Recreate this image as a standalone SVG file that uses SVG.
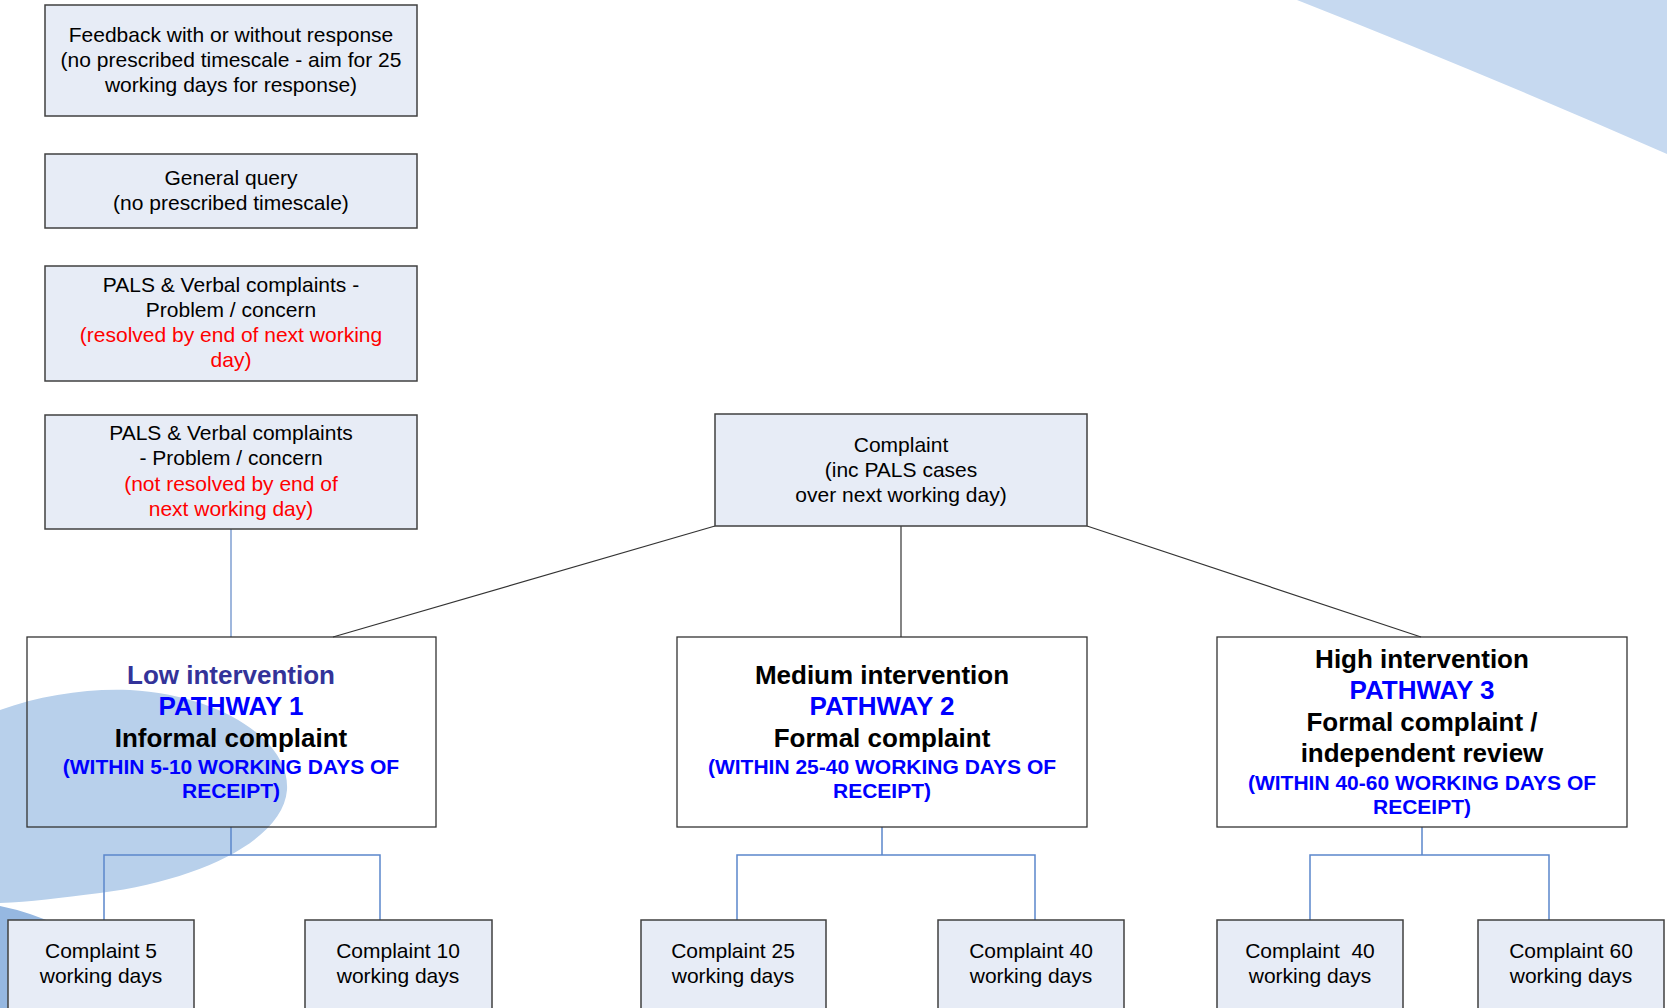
<svg xmlns="http://www.w3.org/2000/svg" width="1667" height="1008" viewBox="0 0 1667 1008">
<style>
  .bg { fill: #ffffff; }
  .box { fill: #E7ECF6; stroke: #404040; stroke-width: 1.5; }
  .pbox { fill: none; stroke: #333333; stroke-width: 1.3; }
  .t { font-family: "Liberation Sans", Arial, sans-serif; font-size: 21px; fill: #000; text-anchor: middle; }
  .red { fill: #FF0000; }
  .h { font-family: "Liberation Sans", Arial, sans-serif; font-size: 26px; font-weight: bold; fill: #000; text-anchor: middle; }
  .w { font-family: "Liberation Sans", Arial, sans-serif; font-size: 21px; font-weight: bold; fill: #0000FF; text-anchor: middle; }
  .blue { fill: #0000FF; }
  .slate { fill: #333399; }
  .dark { stroke: #333333; stroke-width: 1.2; fill: none; }
  .lb { stroke: #7F9FD2; stroke-width: 1.5; fill: none; }
  .tree { stroke: #5B87CC; stroke-width: 1.5; fill: none; }
</style>
<rect class="bg" x="0" y="0" width="1667" height="1008"/>
<g id="decor">
  <path d="M1297,0 Q1480,72 1667,154 L1667,0 Z" fill="#C6D9F0"/>
  <path d="M0,710 C40,695 90,688 130,690 C220,695 290,740 287,790 C283,840 200,880 100,893 C60,898 30,902 0,903 Z" fill="#B8D0EB"/>
  <path d="M0,906 Q30,912 60,926 L60,1008 L0,1008 Z" fill="#96B8E1"/>
</g>
<g id="connectors">
  <line class="lb" x1="231" y1="529" x2="231" y2="637"/>
  <line class="dark" x1="715" y1="526" x2="333" y2="637"/>
  <line class="dark" x1="901" y1="526" x2="901" y2="637"/>
  <line class="dark" x1="1087" y1="526" x2="1421" y2="637"/>
  <path class="tree" d="M231,827 V855 M104,920 V855 H380 V920"/>
  <path class="tree" d="M882,827 V855 M737,920 V855 H1035 V920"/>
  <path class="tree" d="M1422,827 V855 M1310,920 V855 H1549 V920"/>
</g>
<g id="feedback">
  <rect class="box" x="45" y="5" width="372" height="111"/>
  <text class="t" x="231" y="42">Feedback with or without response</text>
  <text class="t" x="231" y="67">(no prescribed timescale - aim for 25</text>
  <text class="t" x="231" y="92">working days for response)</text>
</g>
<g id="general-query">
  <rect class="box" x="45" y="154" width="372" height="74"/>
  <text class="t" x="231" y="185">General query</text>
  <text class="t" x="231" y="210">(no prescribed timescale)</text>
</g>
<g id="pals-resolved">
  <rect class="box" x="45" y="266" width="372" height="115"/>
  <text class="t" x="231" y="292">PALS &amp; Verbal complaints -</text>
  <text class="t" x="231" y="317">Problem / concern</text>
  <text class="t red" x="231" y="342">(resolved by end of next working</text>
  <text class="t red" x="231" y="367">day)</text>
</g>
<g id="pals-not-resolved">
  <rect class="box" x="45" y="415" width="372" height="114"/>
  <text class="t" x="231" y="440">PALS &amp; Verbal complaints</text>
  <text class="t" x="231" y="465">- Problem / concern</text>
  <text class="t red" x="231" y="491">(not resolved by end of</text>
  <text class="t red" x="231" y="516">next working day)</text>
</g>
<g id="complaint">
  <rect class="box" x="715" y="414" width="372" height="112"/>
  <text class="t" x="901" y="452">Complaint</text>
  <text class="t" x="901" y="477">(inc PALS cases</text>
  <text class="t" x="901" y="502">over next working day)</text>
</g>
<g id="pathway1">
  <rect class="pbox" x="27" y="637" width="409" height="190"/>
  <text class="h slate" x="231" y="684">Low intervention</text>
  <text class="h blue" x="231" y="715">PATHWAY 1</text>
  <text class="h" x="231" y="747">Informal complaint</text>
  <text class="w" x="231" y="774">(WITHIN 5-10 WORKING DAYS OF</text>
  <text class="w" x="231" y="798">RECEIPT)</text>
</g>
<g id="pathway2">
  <rect class="pbox" x="677" y="637" width="410" height="190"/>
  <text class="h" x="882" y="684">Medium intervention</text>
  <text class="h blue" x="882" y="715">PATHWAY 2</text>
  <text class="h" x="882" y="747">Formal complaint</text>
  <text class="w" x="882" y="774">(WITHIN 25-40 WORKING DAYS OF</text>
  <text class="w" x="882" y="798">RECEIPT)</text>
</g>
<g id="pathway3">
  <rect class="pbox" x="1217" y="637" width="410" height="190"/>
  <text class="h" x="1422" y="668">High intervention</text>
  <text class="h blue" x="1422" y="699">PATHWAY 3</text>
  <text class="h" x="1422" y="731">Formal complaint /</text>
  <text class="h" x="1422" y="762">independent review</text>
  <text class="w" x="1422" y="790">(WITHIN 40-60 WORKING DAYS OF</text>
  <text class="w" x="1422" y="814">RECEIPT)</text>
</g>
<g id="c5">
  <rect class="box" x="8" y="920" width="186" height="100"/>
  <text class="t" x="101" y="958">Complaint 5</text>
  <text class="t" x="101" y="983">working days</text>
</g>
<g id="c10">
  <rect class="box" x="305" y="920" width="187" height="100"/>
  <text class="t" x="398" y="958">Complaint 10</text>
  <text class="t" x="398" y="983">working days</text>
</g>
<g id="c25">
  <rect class="box" x="641" y="920" width="185" height="100"/>
  <text class="t" x="733" y="958">Complaint 25</text>
  <text class="t" x="733" y="983">working days</text>
</g>
<g id="c40a">
  <rect class="box" x="938" y="920" width="186" height="100"/>
  <text class="t" x="1031" y="958">Complaint 40</text>
  <text class="t" x="1031" y="983">working days</text>
</g>
<g id="c40b">
  <rect class="box" x="1217" y="920" width="186" height="100"/>
  <text class="t" x="1310" y="958" xml:space="preserve">Complaint  40</text>
  <text class="t" x="1310" y="983">working days</text>
</g>
<g id="c60">
  <rect class="box" x="1478" y="920" width="186" height="100"/>
  <text class="t" x="1571" y="958">Complaint 60</text>
  <text class="t" x="1571" y="983">working days</text>
</g>
</svg>
